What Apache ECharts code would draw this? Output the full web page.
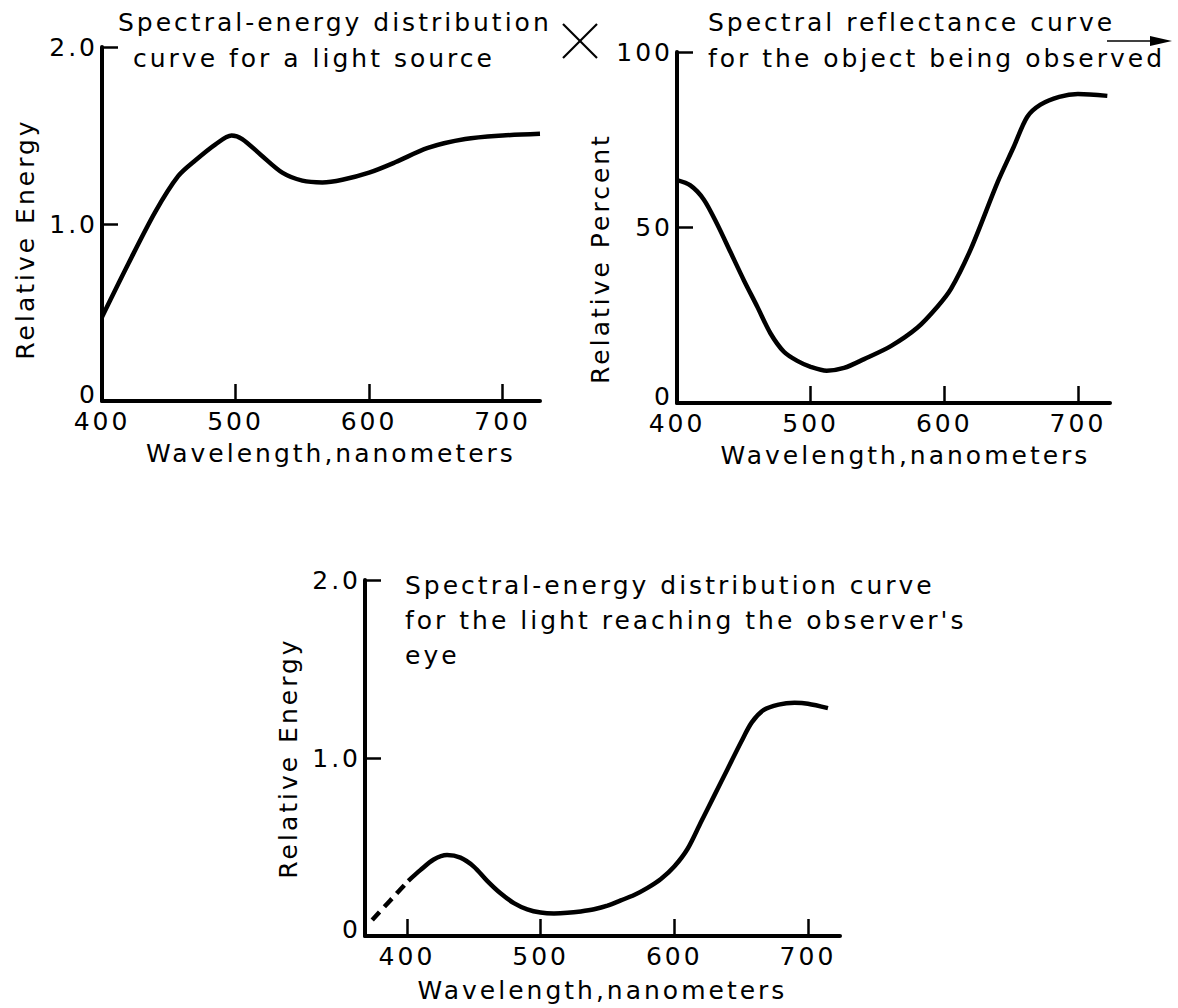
<!DOCTYPE html>
<html>
<head>
<meta charset="utf-8">
<script src="https://cdn.jsdelivr.net/npm/echarts@6/dist/echarts.min.js"></script>
<style>
  html, body { margin: 0; padding: 0; background: #fff; }
  #chart { width: 1178px; height: 1008px; }
  #chart text { letter-spacing: 3px; }
</style>
</head>
<body>
<div id="chart"></div>
<script>
// ---- Data ----
// Top-left: spectral-energy distribution of the light source
const srcWavelength = [400, 420, 440, 457, 470, 485, 497, 505, 519, 535, 550, 565, 580, 600, 620, 644, 672, 700, 728];
const srcEnergy     = [0.475, 0.78, 1.07, 1.27, 1.36, 1.45, 1.50, 1.48, 1.39, 1.29, 1.245, 1.235, 1.25, 1.29, 1.35, 1.43, 1.48, 1.50, 1.51];

// Top-right: spectral reflectance of the object
const reflWavelength = [400, 410, 420, 430, 440, 450, 460, 470, 480, 490, 500, 512, 525, 540, 560, 580, 595, 605, 620, 640, 652, 662, 672, 686, 700, 722];
const reflPercent    = [63.5, 62, 58, 51, 43, 35, 27.5, 19.8, 14.6, 12, 10.3, 9.2, 10, 12.5, 16.2, 21.5, 27.5, 32.5, 44, 63, 73, 81.5, 85, 87.2, 88, 87.5];

// Bottom: light reaching the observer's eye
const eyeDashWavelength = [374, 401];
const eyeDashEnergy     = [0.09, 0.31];
const eyeWavelength = [401, 410, 420, 430, 440, 450, 460, 470, 480, 490, 500, 510, 520, 530, 540, 550, 560, 570, 580, 590, 600, 610, 620, 630, 640, 650, 658, 667, 678, 690, 700, 715];
const eyeEnergy     = [0.31, 0.37, 0.43, 0.455, 0.44, 0.39, 0.31, 0.24, 0.185, 0.15, 0.132, 0.127, 0.13, 0.138, 0.15, 0.17, 0.2, 0.23, 0.27, 0.32, 0.39, 0.49, 0.64, 0.79, 0.94, 1.09, 1.20, 1.27, 1.30, 1.31, 1.305, 1.28];

// Tick labels
const wavelengthLabels = [400, 500, 600, 700];
const energyLabels = [0, 1, 2];
const percentLabels = [0, 50, 100];

// Texts
const titleSource = ['Spectral-energy distribution', 'curve for a light source'];
const titleReflect = ['Spectral reflectance curve', 'for the object being observed'];
const titleEye = ['Spectral-energy distribution curve', 'for the light reaching the observer\'s', 'eye'];
const xName = 'Wavelength,nanometers';
const yNameEnergy = 'Relative Energy';
const yNamePercent = 'Relative Percent';

// ---- Build chart ----
const FONT = 'DejaVu Sans';
const FS = 25;
const zip = (a, b) => a.map((v, i) => [v, b[i]]);

function xAxis(gi, min, max, tickVals, nameGap, namePad) {
  return {
    type: 'value', gridIndex: gi, min: min, max: max,
    name: xName, nameLocation: 'middle', nameGap: nameGap,
    nameTextStyle: { color: '#000', fontSize: FS, fontFamily: FONT, padding: namePad },
    axisLine: { show: true, onZero: false, lineStyle: { color: '#000', width: 4 } },
    axisTick: { show: true, inside: true, length: 17, customValues: tickVals, lineStyle: { color: '#000', width: 2.5 } },
    axisLabel: { customValues: wavelengthLabels, margin: 8, color: '#000', fontSize: FS, fontFamily: FONT },
    splitLine: { show: false }
  };
}
function yAxis(gi, min, max, labels, tickVals, name, fmt, namePad) {
  return {
    type: 'value', gridIndex: gi, min: min, max: max,
    name: name, nameLocation: 'middle', nameGap: 64, nameRotate: 90,
    nameTextStyle: { color: '#000', fontSize: FS, fontFamily: FONT, padding: namePad },
    axisLine: { show: true, onZero: false, lineStyle: { color: '#000', width: 4 } },
    axisTick: { show: true, inside: true, length: 16, customValues: tickVals, lineStyle: { color: '#000', width: 2.5 } },
    axisLabel: {
      customValues: labels, margin: 4, color: '#000', fontSize: FS, fontFamily: FONT, formatter: fmt,
      rich: { z: { fontSize: FS, fontFamily: FONT, color: '#000', padding: [0, 0, 14, 0] } }
    },
    splitLine: { show: false }
  };
}
const energyFmt = v => (v === 0 ? '{z|0}' : v.toFixed(1));
const pctFmt = v => (v === 0 ? '{z|0}' : String(v));

function lineSeries(xi, data, dashed) {
  return {
    type: 'line', xAxisIndex: xi, yAxisIndex: xi, data: data,
    showSymbol: false, smooth: 0.3, silent: true,
    lineStyle: { color: '#000', width: 4.5, type: dashed ? [11, 7] : 'solid', cap: 'butt' }
  };
}

function titleTexts(lines, x, y0, dy, indents) {
  return lines.map((t, i) => ({
    type: 'text', x: x + ((indents && indents[i]) || 0), y: y0 + i * dy, silent: true,
    style: { text: t, fill: '#000', font: FS + 'px "' + FONT + '"', verticalAlign: 'middle', align: 'left' }
  }));
}

const chart = echarts.init(document.getElementById('chart'), null, { renderer: 'svg' });
chart.setOption({
  animation: false,
  backgroundColor: '#fff',
  grid: [
    { left: 102, top: 47, width: 438, height: 354 },
    { left: 677, top: 52, width: 433, height: 351 },
    { left: 365, top: 580, width: 475, height: 356 }
  ],
  xAxis: [
    xAxis(0, 400, 728, [500, 600, 700], 40, [0, 0, 0, 20]),
    xAxis(1, 400, 724, [500, 600, 700], 40, [0, 0, 0, 24]),
    xAxis(2, 368.6, 724, [400, 500, 600, 700], 42, [0, 0, 0, 0])
  ],
  yAxis: [
    yAxis(0, 0, 2, energyLabels, [1, 2], yNameEnergy, energyFmt, [0, 30, 0, 0]),
    yAxis(1, 0, 100, percentLabels, [50, 100], yNamePercent, pctFmt, [0, 62, 0, 0]),
    yAxis(2, 0, 2, energyLabels, [1, 2], yNameEnergy, energyFmt, [0, 0, 0, 0])
  ],
  series: [
    lineSeries(0, zip(srcWavelength, srcEnergy)),
    lineSeries(1, zip(reflWavelength, reflPercent)),
    lineSeries(2, zip(eyeDashWavelength, eyeDashEnergy), true),
    lineSeries(2, zip(eyeWavelength, eyeEnergy))
  ],
  graphic: [].concat(
    titleTexts(titleSource, 118, 22, 36, [0, 15]),
    titleTexts(titleReflect, 708, 22, 36),
    titleTexts(titleEye, 405, 585, 35),
    [
      { type: 'line', silent: true, shape: { x1: 563, y1: 24, x2: 597, y2: 58 }, style: { stroke: '#000', lineWidth: 2.2 } },
      { type: 'line', silent: true, shape: { x1: 597, y1: 24, x2: 563, y2: 58 }, style: { stroke: '#000', lineWidth: 2.2 } },
      { type: 'line', silent: true, shape: { x1: 1107, y1: 41, x2: 1158, y2: 41 }, style: { stroke: '#000', lineWidth: 1.6 } },
      { type: 'polygon', silent: true, shape: { points: [[1150, 36], [1172, 41], [1150, 46]] }, style: { fill: '#000' } }
    ]
  )
});
</script>
</body>
</html>
